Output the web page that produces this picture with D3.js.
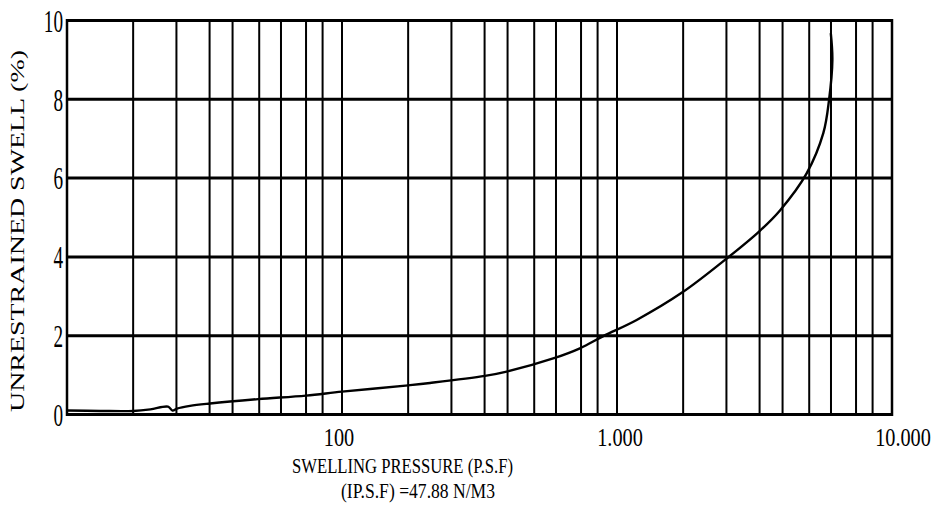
<!DOCTYPE html>
<html>
<head>
<meta charset="utf-8">
<script src="https://cdn.jsdelivr.net/npm/d3@7"></script>
<style>
  html, body { margin: 0; padding: 0; background: #fff; }
  svg { display: block; }
  text { font-family: "Liberation Serif", "Times New Roman", serif; fill: #000; }
</style>
</head>
<body>
<svg id="chart" width="934" height="527"></svg>
<script>
// ---- data ----
const pressure = [10, 13.2, 17.4, 20.1, 23.3, 24.2, 25.1, 28, 33.1, 49.5, 74, 100, 174, 209, 331, 397, 590, 733, 892, 1179, 1729, 2506, 3293, 3914, 4894, 5626, 5902, 6070, 5990];
const swell    = [0.10, 0.09, 0.09, 0.13, 0.20, 0.10, 0.15, 0.22, 0.28, 0.39, 0.48, 0.58, 0.74, 0.80, 0.98, 1.09, 1.43, 1.68, 1.99, 2.40, 3.10, 3.96, 4.65, 5.18, 6.12, 7.14, 7.98, 9.00, 9.68];
const xTickValues = [100, 1000, 10000];
const xTickLabels = ["100", "1.000", "10.000"];
const yTickValues = [0, 2, 4, 6, 8, 10];
const yTickLabels = ["0", "2", "4", "6", "8", "10"];
const decades = [10, 100, 1000];
const gridMultipliers = [1.74, 2.5, 3.3, 4, 5, 6, 7.4, 8.5];
const xTitle = "SWELLING PRESSURE (P.S.F)";
const xSubTitle = "(IP.S.F) =47.88 N/M3";
const yTitle = "UNRESTRAINED SWELL (%)";

// ---- layout ----
const mLeft = 67, mRight = 892, mTop = 20.5, mBottom = 414.5;
const svg = d3.select("#chart");

const x = d3.scaleLog().domain([10, 10000]).range([mLeft, mRight]);
const y = d3.scaleLinear().domain([0, 10]).range([mBottom, mTop]);

// vertical grid
const vGrid = [];
decades.forEach(d => {
  if (d > 10) vGrid.push(d);
  gridMultipliers.forEach(m => vGrid.push(d * m));
});
svg.append("g").selectAll("line").data(vGrid).join("line")
  .attr("x1", d => x(d)).attr("x2", d => x(d))
  .attr("y1", mTop).attr("y2", mBottom)
  .attr("stroke", "#000").attr("stroke-width", 2);

// horizontal grid
svg.append("g").selectAll("line").data(yTickValues).join("line")
  .attr("x1", mLeft).attr("x2", mRight)
  .attr("y1", d => y(d)).attr("y2", d => y(d))
  .attr("stroke", "#000").attr("stroke-width", 3);

// side borders
svg.append("g").selectAll("line").data([10, 10000]).join("line")
  .attr("x1", d => x(d)).attr("x2", d => x(d))
  .attr("y1", mTop - 1.5).attr("y2", mBottom + 1.5)
  .attr("stroke", "#000").attr("stroke-width", 2.5);

// curve
const line = d3.line()
  .x((d, i) => x(pressure[i]))
  .y((d, i) => y(swell[i]))
  .curve(d3.curveCatmullRom.alpha(0.5));
svg.append("path")
  .attr("d", line(pressure))
  .attr("fill", "none")
  .attr("stroke", "#000")
  .attr("stroke-width", 2.4)
  .attr("stroke-linejoin", "round");

// y tick labels
svg.append("g").selectAll("text").data(yTickValues).join("text")
  .attr("transform", d => `translate(63,${y(d) + 1}) scale(0.62,1)`)
  .attr("text-anchor", "end")
  .attr("dominant-baseline", "central")
  .attr("font-size", 31)
  .text((d, i) => yTickLabels[i]);

// x tick labels
svg.append("g").selectAll("text").data(xTickValues).join("text")
  .attr("transform", (d, i) => `translate(${x(d) + (i === xTickValues.length - 1 ? 11 : (i === 0 ? -3 : 3))},446) scale(0.78,1)`)
  .attr("text-anchor", "middle")
  .attr("font-size", 26)
  .text((d, i) => xTickLabels[i]);

// x titles
svg.append("text")
  .attr("x", 292).attr("y", 473)
  .attr("font-size", 22)
  .attr("textLength", 221).attr("lengthAdjust", "spacingAndGlyphs")
  .text(xTitle);
svg.append("text")
  .attr("x", 341).attr("y", 498)
  .attr("font-size", 22)
  .attr("textLength", 154).attr("lengthAdjust", "spacingAndGlyphs")
  .text(xSubTitle);

// y title
svg.append("text")
  .attr("transform", "translate(24,412) rotate(-90)")
  .attr("font-size", 19)
  .attr("textLength", 362).attr("lengthAdjust", "spacingAndGlyphs")
  .text(yTitle);
</script>
</body>
</html>
